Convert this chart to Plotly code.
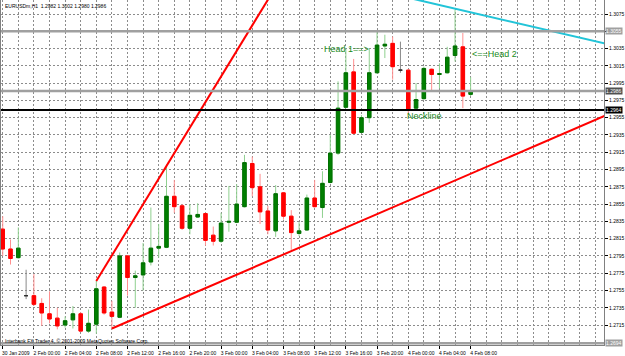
import plotly.graph_objects as go

# ---------------- data ----------------
opens = [1.2826, 1.2803, 1.2793, 1.2749, 1.2749, 1.2740, 1.2728, 1.2723, 1.2715, 1.2721,
         1.2728, 1.2708, 1.2716, 1.2759, 1.2730, 1.2724, 1.2795, 1.2770, 1.2773, 1.2788,
         1.2804, 1.2805, 1.2864, 1.2853, 1.2827, 1.2840, 1.2844, 1.2819, 1.2812, 1.2834,
         1.2834, 1.2852, 1.2902, 1.2875, 1.2847, 1.2824, 1.2868, 1.2841, 1.2821, 1.2825,
         1.2862, 1.2851, 1.2880, 1.2914, 1.2967, 1.3008, 1.2938, 1.2955, 1.3007, 1.3038,
         1.3041, 1.3010, 1.3010, 1.2966, 1.2977, 1.3011, 1.3005, 1.3007, 1.3027, 1.3037, 1.2982]
highs = [1.2841, 1.2814, 1.2828, 1.2779, 1.2774, 1.2746, 1.2754, 1.2735, 1.2725, 1.2737,
         1.2730, 1.2733, 1.2766, 1.2760, 1.2743, 1.2799, 1.2796, 1.2778, 1.2810, 1.2851,
         1.2832, 1.2901, 1.2883, 1.2855, 1.2855, 1.2856, 1.2845, 1.2829, 1.2845, 1.2876,
         1.2878, 1.2912, 1.2910, 1.2890, 1.2853, 1.2877, 1.2869, 1.2848, 1.2834, 1.2866,
         1.2883, 1.2893, 1.2935, 1.2997, 1.3035, 1.3023, 1.2958, 1.3035, 1.3055, 1.3051,
         1.3049, 1.3043, 1.3011, 1.2995, 1.3014, 1.3012, 1.3018, 1.3037, 1.3080, 1.3053, 1.3002]
lows = [1.2795, 1.2785, 1.2792, 1.2745, 1.2737, 1.2714, 1.2717, 1.2710, 1.2712, 1.2711,
        1.2707, 1.2706, 1.2705, 1.2727, 1.2710, 1.2723, 1.2749, 1.2735, 1.2755, 1.2784,
        1.2793, 1.2804, 1.2845, 1.2825, 1.2820, 1.2839, 1.2807, 1.2807, 1.2810, 1.2823,
        1.2833, 1.2851, 1.2864, 1.2832, 1.2820, 1.2817, 1.2837, 1.2802, 1.2818, 1.2824,
        1.2851, 1.2839, 1.2879, 1.2912, 1.2966, 1.2936, 1.2937, 1.2949, 1.3006, 1.3024,
        1.2999, 1.3007, 1.2958, 1.2965, 1.2976, 1.2985, 1.2989, 1.3006, 1.3020, 1.2966, 1.2980]
closes = [1.2803, 1.2792, 1.2804, 1.2749, 1.2739, 1.2729, 1.2722, 1.2714, 1.2720, 1.2728,
          1.2708, 1.2717, 1.2757, 1.2729, 1.2725, 1.2795, 1.2770, 1.2772, 1.2787, 1.2804,
          1.2806, 1.2864, 1.2852, 1.2827, 1.2842, 1.2843, 1.2813, 1.2812, 1.2833, 1.2835,
          1.2855, 1.2903, 1.2874, 1.2846, 1.2825, 1.2867, 1.2841, 1.2822, 1.2824, 1.2862,
          1.2852, 1.2879, 1.2914, 1.2966, 1.3007, 1.2937, 1.2955, 1.3007, 1.3039, 1.3040,
          1.3014, 1.3010, 1.2964, 1.2976, 1.3012, 1.3005, 1.3006, 1.3025, 1.3038, 1.2980, 1.2986]

time_tick_idx = [0, 4, 8, 12, 16, 20, 24, 28, 32, 36, 40, 44, 48, 52, 56, 60]
time_tick_text = ["30 Jan 2009", "2 Feb 00:00", "2 Feb 04:00", "2 Feb 08:00", "2 Feb 12:00",
                  "2 Feb 16:00", "2 Feb 20:00", "3 Feb 00:00", "3 Feb 04:00", "3 Feb 08:00",
                  "3 Feb 12:00", "3 Feb 16:00", "3 Feb 20:00", "4 Feb 00:00", "4 Feb 04:00",
                  "4 Feb 08:00"]
# 1.3055 is shown by the price-line box that sits on top of it
price_tick_vals = [1.2715, 1.2735, 1.2755, 1.2775, 1.2795, 1.2815, 1.2835, 1.2855, 1.2875,
                   1.2895, 1.2915, 1.2935, 1.2955, 1.2975, 1.2995, 1.3015, 1.3035, 1.3055, 1.3075]
price_tick_text = ["1.2715", "1.2735", "1.2755", "1.2775", "1.2795", "1.2815", "1.2835",
                   "1.2855", "1.2875", "1.2895", "1.2915", "1.2935", "1.2955", "1.2975",
                   "1.2995", "1.3015", "1.3035", "", "1.3075"]

hline_prices = [1.3055, 1.2986, 1.2964, 1.2694]
hline_labels = ["1.3055", "1.2986", "1.2964", "1.2694"]

trend_red1_x = [12, 36]
trend_red1_y = [1.2766, 1.3121]
trend_red2_x = [14, 80]
trend_red2_y = [1.2711, 1.2968]
trend_cyan_x = [50, 80]
trend_cyan_y = [1.3098, 1.3035]

title_text = "EURUSDm,H1  1.2982 1.3002 1.2980 1.2986"
copyright_text = "Interbank FX Trader 4, © 2001-2009 MetaQuotes Software Corp."

# ---------------- build ----------------
FONT = "Liberation Sans, Arial, sans-serif"
n = len(opens)
idx = list(range(n))
doji = [opens[i] == closes[i] for i in idx]


def pick(arr, keep):
    return [arr[i] if keep[i] else None for i in idx]


normal = [not d for d in doji]
body_hi = [max(o, c) for o, c in zip(opens, closes)]
body_lo = [min(o, c) for o, c in zip(opens, closes)]

fig = go.Figure()

# trend lines drawn under candles
fig.add_trace(go.Scatter(x=trend_red2_x, y=trend_red2_y, mode="lines",
                         line=dict(color="#ff0000", width=2), hoverinfo="skip"))
fig.add_trace(go.Scatter(x=trend_red1_x, y=trend_red1_y, mode="lines",
                         line=dict(color="#ff0000", width=2), hoverinfo="skip"))
fig.add_trace(go.Scatter(x=trend_cyan_x, y=trend_cyan_y, mode="lines",
                         line=dict(color="#22c4d8", width=2), hoverinfo="skip"))

# wicks
fig.add_trace(go.Candlestick(
    x=idx, open=pick(opens, normal), high=pick(highs, normal),
    low=pick(lows, normal), close=pick(closes, normal),
    increasing=dict(line=dict(color="#8fd08f", width=1), fillcolor="rgba(0,0,0,0)"),
    decreasing=dict(line=dict(color="#ff8f8f", width=1), fillcolor="rgba(0,0,0,0)"),
    whiskerwidth=0, hoverinfo="skip"))
# bodies
fig.add_trace(go.Candlestick(
    x=idx, open=pick(opens, normal), high=pick(body_hi, normal),
    low=pick(body_lo, normal), close=pick(closes, normal),
    increasing=dict(line=dict(color="#006e00", width=1), fillcolor="#008000"),
    decreasing=dict(line=dict(color="#ff0000", width=1), fillcolor="#ff0000"),
    whiskerwidth=0, hoverinfo="skip"))
# doji (open == close)
fig.add_trace(go.Candlestick(
    x=idx, open=pick(opens, doji), high=pick(highs, doji),
    low=pick(lows, doji), close=pick(closes, doji),
    increasing=dict(line=dict(color="#8a8a8a", width=1), fillcolor="#8a8a8a"),
    decreasing=dict(line=dict(color="#8a8a8a", width=1), fillcolor="#8a8a8a"),
    whiskerwidth=0, hoverinfo="skip"))
fig.add_trace(go.Candlestick(
    x=idx, open=pick(opens, doji), high=pick(opens, doji),
    low=pick(closes, doji), close=pick(closes, doji),
    increasing=dict(line=dict(color="#303030", width=1), fillcolor="#303030"),
    decreasing=dict(line=dict(color="#303030", width=1), fillcolor="#303030"),
    whiskerwidth=0, hoverinfo="skip"))

# horizontal price lines
hline_colors = ["#a0a0a0", "#a0a0a0", "#000000", "#a0a0a0"]
hline_widths = [2.5, 2.5, 2, 2.5]
box_colors = ["#a0a0a0", "#505050", "#000000", "#a0a0a0"]
for p, lab, col, w, bc in zip(hline_prices, hline_labels, hline_colors, hline_widths, box_colors):
    fig.add_shape(type="line", xref="paper", x0=0, x1=1, yref="y", y0=p, y1=p,
                  line=dict(color=col, width=w), layer="above")
    fig.add_annotation(xref="paper", x=1.0, xanchor="left", yref="y", y=p, yanchor="middle",
                       text=lab, showarrow=False, bgcolor=bc, borderpad=0,
                       font=dict(family=FONT, size=5, color="#ffffff"), xshift=1)

# pattern text labels
txt_font = dict(family=FONT, size=9, color="#1a8c1a")
fig.add_annotation(x=40.9, y=1.3034, text="Head 1==>", showarrow=False,
                   xanchor="left", yanchor="middle", font=txt_font)
fig.add_annotation(x=59.9, y=1.3029, text="<==Head 2", showarrow=False,
                   xanchor="left", yanchor="middle", font=txt_font)
fig.add_annotation(x=51.6, y=1.2957, text="Neckline", showarrow=False,
                   xanchor="left", yanchor="middle", font=txt_font)

fig.add_annotation(xref="paper", yref="paper", x=0.003, y=0.997, xanchor="left", yanchor="top",
                   text=title_text, showarrow=False,
                   font=dict(family=FONT, size=5, color="#000000"))
fig.add_annotation(xref="paper", yref="paper", x=0.003, y=0.0, xanchor="left", yanchor="bottom",
                   text=copyright_text, showarrow=False, yshift=-1,
                   font=dict(family=FONT, size=5, color="#000000"))

grid_even = list(range(0, 78, 2))

fig.update_layout(
    width=625, height=356, autosize=False,
    margin=dict(l=0, r=18, t=0, b=10, pad=0),
    paper_bgcolor="#ffffff", plot_bgcolor="#ffffff",
    showlegend=False, boxgap=0.36, boxmode="overlay",
    font=dict(family=FONT, size=5, color="#000000"),
    xaxis=dict(
        range=[-0.22, 77.1], rangeslider=dict(visible=False),
        tickmode="array", tickvals=time_tick_idx, ticktext=time_tick_text,
        ticks="outside", ticklen=3, tickcolor="#000000", tickwidth=1,
        tickfont=dict(family=FONT, size=5, color="#000000"),
        ticklabelshift=13, ticklabelstandoff=0,
        showgrid=True, gridcolor="#8c8c8c", griddash="2px,2px", gridwidth=1,
        minor=dict(tickmode="array", tickvals=grid_even, showgrid=True,
                   gridcolor="#8c8c8c", griddash="2px,2px", gridwidth=1, ticks=""),
        showline=True, linecolor="#808080", linewidth=1, zeroline=False,
    ),
    yaxis=dict(
        range=[1.26919, 1.30912], side="right",
        tickmode="array", tickvals=price_tick_vals, ticktext=price_tick_text,
        ticks="outside", ticklen=3, tickcolor="#000000",
        tickfont=dict(family=FONT, size=5, color="#000000"),
        showgrid=True, gridcolor="#8c8c8c", griddash="2px,2px", gridwidth=1,
        showline=True, linecolor="#808080", linewidth=1, mirror=True, zeroline=False,
    ),
)

fig.write_html("out.html")
